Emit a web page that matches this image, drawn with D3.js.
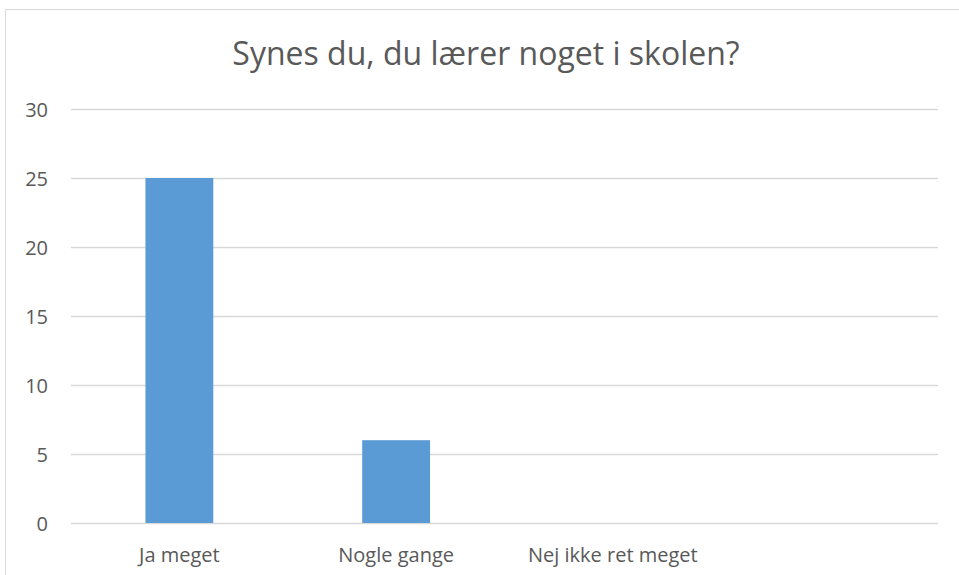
<!DOCTYPE html>
<html>
<head>
<meta charset="utf-8">
<script src="https://cdn.jsdelivr.net/npm/d3@7"></script>
<style>
  body { margin: 0; background: #fff; }
  svg { display: block; }
  text { font-family: "Open Sans", "Liberation Sans", sans-serif; fill: #595959; }
</style>
</head>
<body>
<svg id="chart" width="959" height="575"></svg>
<script>
// chart data
var categories = ["Ja meget", "Nogle gange", "Nej ikke ret meget", ""];
var values = [25, 6, 0, null];
var yTicks = [0, 5, 10, 15, 20, 25, 30];
var title = "Synes du, du lærer noget i skolen?";

var svg = d3.select("#chart");
var margin = {top: 109, left: 71, right: 21, bottom: 52};
var W = 959, H = 575;

// outer frame of the chart
svg.append("rect")
    .attr("x", 5.5).attr("y", 9.5)
    .attr("width", 980).attr("height", 600)
    .attr("fill", "#fff")
    .attr("stroke", "#d9d9d9");

var x = d3.scaleBand()
    .domain(categories.map(function (d, i) { return i; }))
    .range([margin.left, W - margin.right])
    .paddingInner(0.687)
    .paddingOuter(0.3435);

var y = d3.scaleLinear()
    .domain([0, 30])
    .range([H - margin.bottom, margin.top]);

// gridlines
svg.append("g")
    .selectAll("line")
    .data(yTicks)
    .enter()
    .append("line")
        .attr("x1", margin.left).attr("x2", W - margin.right)
        .attr("y1", function (d) { return Math.round(y(d)) + 0.5; })
        .attr("y2", function (d) { return Math.round(y(d)) + 0.5; })
        .attr("stroke", "#d9d9d9")
        .attr("stroke-width", 1.3);

// y labels
svg.append("g")
    .selectAll("text")
    .data(yTicks)
    .enter()
    .append("text")
        .attr("x", 48)
        .attr("y", function (d) { return y(d) + 8; })
        .attr("text-anchor", "end")
        .style("font-size", "20px")
        .text(function (d) { return d; });

// bars
svg.append("g")
    .selectAll("rect")
    .data(values)
    .enter()
    .filter(function (d) { return d; })
    .append("rect")
        .attr("x", function (d, i) { return x(i); })
        .attr("y", function (d) { return y(d); })
        .attr("width", x.bandwidth())
        .attr("height", function (d) { return y(0) - y(d); })
        .attr("fill", "#5b9bd5");

// x labels
svg.append("g")
    .selectAll("text")
    .data(categories)
    .enter()
    .append("text")
        .attr("x", function (d, i) { return x(i) + x.bandwidth() / 2; })
        .attr("y", 562)
        .attr("text-anchor", "middle")
        .style("font-size", "20px")
        .text(function (d) { return d; });

// title
svg.append("text")
    .attr("x", 486)
    .attr("y", 65)
    .attr("text-anchor", "middle")
    .style("font-size", "32px")
    .text(title);
</script>
</body>
</html>
